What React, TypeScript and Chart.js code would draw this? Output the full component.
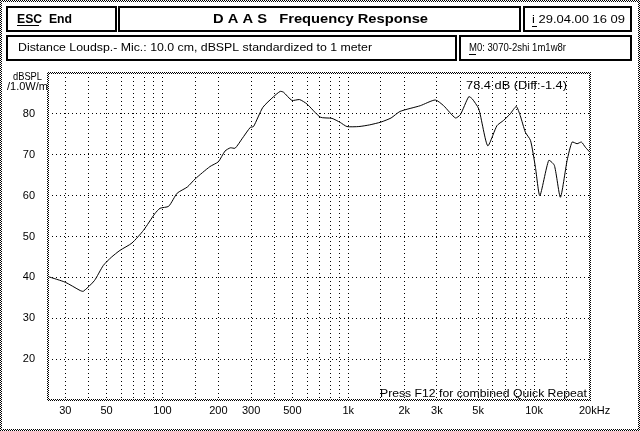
import React, { useEffect, useRef } from 'react';
import { Chart, registerables } from 'chart.js';

Chart.register(...registerables);

// ---- data ----
const freqs = [24.2, 30, 36, 37.5, 43, 48, 53, 59, 68.5, 79, 91, 97, 108, 120, 136, 150, 180, 200, 217, 232, 246, 268, 297, 309, 347, 396, 430, 448, 497, 547, 600, 707, 817, 905, 984, 1140, 1300, 1500, 1700, 1900, 2440, 2940, 3260, 3770, 4010, 4450, 4640, 5040, 5630, 6310, 6850, 7440, 8020, 8420, 8980, 9570, 10170, 10740, 11990, 12860, 13860, 15060, 16020, 17040, 17980, 18910, 20000];
const spl = [40.2, 38.8, 36.8, 36.6, 39.2, 42.9, 44.9, 46.6, 48.4, 51.5, 55.6, 56.9, 57.4, 60.6, 62.1, 64.1, 67.1, 68.3, 70.9, 71.7, 71.6, 73.9, 76.7, 76.9, 81.6, 84.2, 85.5, 85.3, 83.3, 83.5, 82.4, 79.2, 78.9, 77.9, 76.9, 76.9, 77.3, 78.0, 79.0, 80.6, 82.0, 83.4, 82.0, 79.0, 79.8, 84.2, 83.7, 81.2, 72.2, 77.1, 78.4, 80.0, 81.8, 79.6, 75.5, 73.5, 66.9, 60.0, 68.6, 67.4, 59.6, 68.6, 73.1, 72.7, 73.1, 71.8, 70.6];

const gridFreqs = [30, 40, 50, 60, 70, 80, 90, 100, 150, 200, 300, 400, 500, 600, 700, 800, 900, 1000, 1500, 2000, 3000, 4000, 5000, 6000, 7000, 8000, 9000, 10000, 15000, 20000];
const labeledFreqs = [30, 50, 100, 200, 300, 500, 1000, 2000, 3000, 5000, 10000, 20000];
const xLabels = ['30', '50', '100', '200', '300', '500', '1k', '2k', '3k', '5k', '10k', '   20kHz'];
const yLabeled = [20, 30, 40, 50, 60, 70, 80];

const X_MIN = 24.2;
const X_MAX = 20000;
const Y_MIN = 10;
const Y_MAX = 90;

const headerLeft = 'ESC  End';
const headerTitle = 'D A A S   Frequency Response';
const headerDate = 'i 29.04.00 16 09';
const infoLine = 'Distance Loudsp.- Mic.: 10.0 cm, dBSPL standardized to 1 meter';
const infoModel = 'M0: 3070-2shi 1m1w8r';
const yUnit1 = 'dBSPL';
const yUnit2 = '/1.0W/m';
const readout = '78.4 dB (Diff:-1.4)';
const footer = 'Press F12 for combined Quick Repeat';

const FONT = '"Liberation Sans", Arial, sans-serif';

function makeChecker(ctx: CanvasRenderingContext2D) {
  const c = document.createElement('canvas');
  c.width = 2;
  c.height = 2;
  const g = c.getContext('2d')!;
  g.fillStyle = '#fff';
  g.fillRect(0, 0, 2, 2);
  g.fillStyle = '#000';
  g.fillRect(0, 0, 1, 1);
  g.fillRect(1, 1, 1, 1);
  return ctx.createPattern(c, 'repeat')!;
}

function fitText(ctx: CanvasRenderingContext2D, text: string, x: number, yMid: number, width: number, font: string) {
  ctx.save();
  ctx.font = font;
  ctx.fillStyle = '#000';
  ctx.textBaseline = 'middle';
  ctx.textAlign = 'left';
  const w = ctx.measureText(text).width;
  ctx.translate(x, yMid);
  ctx.scale(width / w, 1);
  ctx.fillText(text, 0, 0);
  ctx.restore();
}

function box(ctx: CanvasRenderingContext2D, x0: number, y0: number, x1: number, y1: number) {
  ctx.save();
  ctx.strokeStyle = '#000';
  ctx.lineWidth = 2;
  ctx.strokeRect(x0 + 1, y0 + 1, x1 - x0 - 2, y1 - y0 - 2);
  ctx.restore();
}

const framePlugin = {
  id: 'daasFrame',
  beforeDraw(chart: any) {
    const ctx: CanvasRenderingContext2D = chart.ctx;
    ctx.save();
    ctx.fillStyle = '#fff';
    ctx.fillRect(0, 0, chart.width, chart.height);
    ctx.restore();
  },
  afterDraw(chart: any) {
    const ctx: CanvasRenderingContext2D = chart.ctx;
    const W = chart.width;
    const H = chart.height;
    const pat = makeChecker(ctx);
    const { left, right, top, bottom } = chart.chartArea;
    ctx.save();
    ctx.fillStyle = pat;
    // outer frame
    ctx.fillRect(0, 0, W, 2);
    ctx.fillRect(0, H - 2, W, 2);
    ctx.fillRect(0, 0, 2, H);
    ctx.fillRect(W - 2, 0, 2, H);
    // plot frame
    ctx.fillRect(left - 1, top - 1, right - left + 2, 2);
    ctx.fillRect(left - 1, bottom - 1, right - left + 2, 2);
    ctx.fillRect(left - 1, top - 1, 2, bottom - top + 2);
    ctx.fillRect(right - 1, top - 1, 2, bottom - top + 2);
    ctx.restore();

    // header boxes
    box(ctx, 6, 6, 117, 32);
    box(ctx, 118, 6, 521, 32);
    box(ctx, 523, 6, 632, 32);
    box(ctx, 6, 35, 457, 61);
    box(ctx, 459, 35, 632, 61);

    const reg = `11px ${FONT}`;
    const bold = `bold 12px ${FONT}`;
    fitText(ctx, headerLeft, 17, 19.5, 55, bold);
    fitText(ctx, headerTitle, 213, 19.5, 215, bold);
    fitText(ctx, headerDate, 532, 19.5, 93, reg);
    fitText(ctx, infoLine, 18, 48, 354, reg);
    fitText(ctx, infoModel, 469, 48, 97, reg);
    fitText(ctx, yUnit1, 13, 76.5, 29, reg);
    fitText(ctx, yUnit2, 7, 87, 41, reg);
    fitText(ctx, readout, 466, 86, 101, reg);
    fitText(ctx, footer, 380, 393.5, 207, reg);

    // underlines of hot keys
    ctx.save();
    ctx.fillStyle = '#000';
    ctx.fillRect(17, 25, 22, 1);
    ctx.fillRect(532, 26, 5, 1);
    ctx.fillRect(469, 54, 7, 1);
    ctx.restore();
  },
};

export default function App() {
  const ref = useRef<HTMLCanvasElement>(null);
  useEffect(() => {
    const canvas = ref.current!;
    const tickFont = { family: FONT, size: 11 };
    const chart = new Chart(canvas, {
      type: 'line',
      data: {
        datasets: [
          {
            data: freqs.map((f, i) => ({ x: f, y: spl[i] })),
            borderColor: '#000',
            borderWidth: 1,
            pointRadius: 0,
            tension: 0.2,
            fill: false,
          },
        ],
      },
      options: {
        animation: false,
        responsive: false,
        maintainAspectRatio: false,
        devicePixelRatio: 1,
        layout: { padding: { top: 73, right: 50, bottom: 0, left: 0 } },
        plugins: { legend: { display: false }, tooltip: { enabled: false } },
        scales: {
          x: {
            type: 'logarithmic',
            position: 'bottom',
            min: X_MIN,
            max: X_MAX,
            afterBuildTicks: (s: any) => {
              s.ticks = gridFreqs.map((v) => ({ value: v }));
            },
            afterFit: (s: any) => {
              s.height = 31;
              s.paddingLeft = 0;
              s.paddingRight = 0;
            },
            ticks: {
              autoSkip: false,
              maxRotation: 0,
              minRotation: 0,
              padding: 4,
              color: '#000',
              font: tickFont,
              callback: (v: any) => {
                const i = labeledFreqs.indexOf(Number(v));
                return i >= 0 ? xLabels[i] : '';
              },
            },
            grid: {
              drawTicks: false,
              lineWidth: 1,
              color: (c: any) => (c.tick && c.tick.value === X_MAX ? 'rgba(0,0,0,0)' : '#000'),
            },
            border: { display: false, dash: [1, 3] },
          },
          y: {
            type: 'linear',
            position: 'left',
            min: Y_MIN,
            max: Y_MAX,
            afterBuildTicks: (s: any) => {
              const t = [];
              for (let v = Y_MIN; v <= Y_MAX; v += 10) t.push({ value: v });
              s.ticks = t;
            },
            afterFit: (s: any) => {
              s.width = 48;
              s.paddingTop = 0;
              s.paddingBottom = 0;
            },
            ticks: {
              padding: 13,
              color: '#000',
              font: tickFont,
              callback: (v: any) => (yLabeled.includes(Number(v)) ? String(v) : ''),
            },
            grid: {
              drawTicks: false,
              lineWidth: 1,
              color: (c: any) =>
                c.tick && (c.tick.value === Y_MIN || c.tick.value === Y_MAX) ? 'rgba(0,0,0,0)' : '#000',
            },
            border: { display: false, dash: [1, 3] },
          },
        },
      },
      plugins: [framePlugin],
    } as any);
    return () => chart.destroy();
  }, []);
  return (
    <div style={{ position: 'absolute', left: 0, top: 0, width: 640, height: 431, background: '#fff' }}>
      <canvas ref={ref} width={640} height={431} style={{ display: 'block', width: 640, height: 431 }} />
    </div>
  );
}
